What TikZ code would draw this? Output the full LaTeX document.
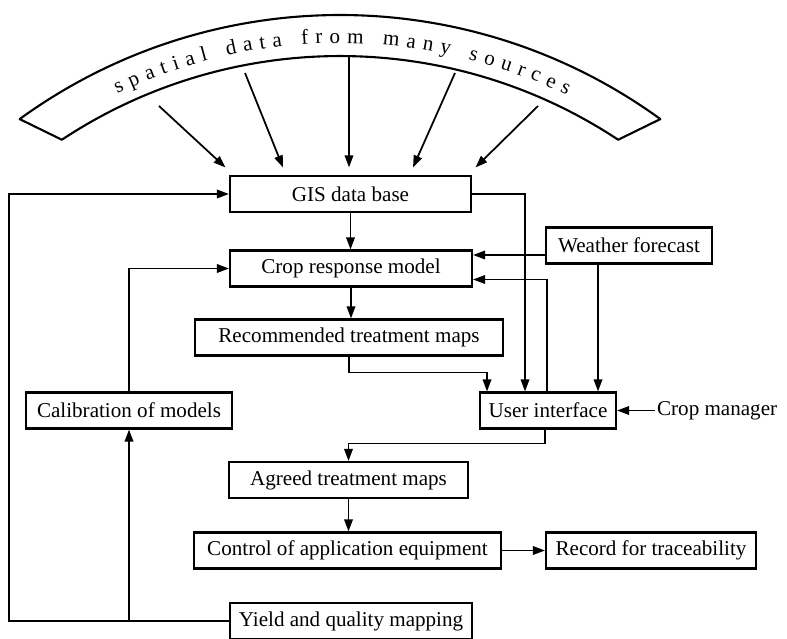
\documentclass[tikz,border=0pt]{standalone}
\usepackage{fontspec}
\setmainfont{Liberation Serif}
\usepackage{tikz}
\usetikzlibrary{arrows.meta, calc, decorations.text}

\begin{document}
\begin{tikzpicture}[
  blk/.style={rectangle, draw, line width=1.2pt, minimum height=0.72cm, inner sep=2pt, font=\fontsize{12}{14}\selectfont},
  arr/.style={-{Triangle[length=2.4mm, width=1.7mm]}, line width=1pt},
  band/.style={line width=1.2pt, line join=round}
]
  \useasboundingbox (0,0) rectangle (15.74,-12.76);
  \coordinate (ctr) at (6.8,-11.2);
  \draw[band] ($(ctr)+(126:10.9)$) arc[start angle=126, end angle=54, radius=10.9]
    -- ($(ctr)+(56.5:10.08)$) arc[start angle=56.5, end angle=123.5, radius=10.08] -- cycle;
  \path[decorate, decoration={text along path, text align=fit to path,
    text={|\fontsize{12}{14}\selectfont|spatial data from many sources}}]
    ($(ctr)+(115.5:10.34)$) arc[start angle=115.5, end angle=64, radius=10.34];

  \node[blk, minimum width=4.82cm] (gis) at (7.01,-3.88) {GIS data base};
  \node[blk, minimum width=4.84cm] (crop) at (7.02,-5.37) {Crop response model};
  \node[blk, minimum width=6.16cm] (recmap) at (6.98,-6.75) {Recommended treatment maps};
  \node[blk, minimum width=3.32cm] (weather) at (12.58,-4.91) {Weather forecast};
  \node[blk, minimum width=2.72cm] (ui) at (10.96,-8.21) {User interface};
  \node[blk, minimum width=4.12cm] (calib) at (2.58,-8.21) {Calibration of models};
  \node[blk, minimum width=4.78cm] (agreed) at (6.97,-9.6) {Agreed treatment maps};
  \node[blk, minimum width=6.14cm] (ctrl) at (6.95,-11.01) {Control of application equipment};
  \node[blk, minimum width=4.2cm] (trace) at (13.02,-11.01) {Record for traceability};
  \node[blk, minimum width=4.84cm] (yield) at (7.02,-12.42) {Yield and quality mapping};
  \node[anchor=west, inner sep=1pt, font=\fontsize{12}{14}\selectfont] (cropman) at (13.1,-8.21) {Crop manager};

  \coordinate (s1) at (3.18,-2.12);
  \coordinate (s2) at (4.9,-1.46);
  \coordinate (s3) at (6.98,-1.14);
  \coordinate (s4) at (9.1,-1.46);
  \coordinate (s5) at (10.76,-2.12);
  \coordinate (lft) at (0.18,0);

  \draw[arr] (s1) -- ($(gis.north)+(-2.5,0.15)$);
  \draw[arr] (s2) -- ($(gis.north)+(-1.35,0.15)$);
  \draw[arr] (s3) -- ($(gis.north)+(-0.03,0.15)$);
  \draw[arr] (s4) -- ($(gis.north)+(1.25,0.15)$);
  \draw[arr] (s5) -- ($(gis.north)+(2.5,0.15)$);

  \draw[arr] (yield.west) -| (lft |- gis.west) -- (gis.west);
  \draw[arr] (calib.south |- yield.west) -- (calib.south);
  \draw[arr] (calib.north) |- (crop.west);
  \draw[arr] (gis.south) -- (gis.south |- crop.north);
  \draw[arr] (crop.south) -- (crop.south |- recmap.north);
  \draw[arr] (recmap.south) -- ++(0,-0.32) -| ($(ui.north)+(-1.22,0)$);
  \draw[arr] (gis.east) -| ($(ui.north)+(-0.46,0)$);
  \draw[arr] (weather.west |- 0,-5.1) -- (crop.east |- 0,-5.1);
  \draw[arr] ($(ui.north)+(-0.02,0)$) |- (crop.east |- 0,-5.59);
  \draw[arr] (weather.south -| 11.96,0) -- (ui.north -| 11.96,0);
  \draw[arr] (cropman.west) -- (ui.east);
  \draw[arr] ($(ui.south)+(-0.06,0)$) -- ++(0,-0.28) -| (agreed.north);
  \draw[arr] (agreed.south) -- (agreed.south |- ctrl.north);
  \draw[arr] (ctrl.east) -- (trace.west);
\end{tikzpicture}
\end{document}
